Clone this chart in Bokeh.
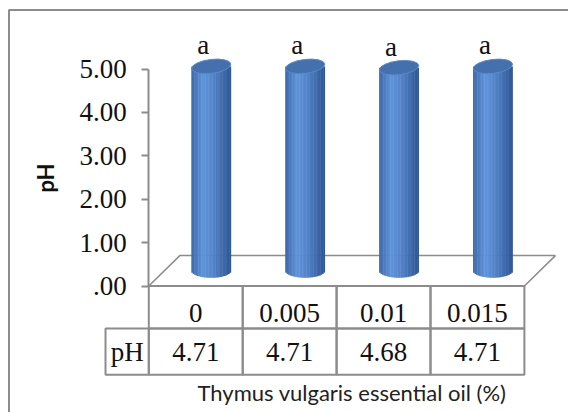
import math
from bokeh.plotting import figure
from bokeh.models import Range1d, LinearAxis, FixedTicker, BoxAnnotation
from bokeh.core.properties import value
from bokeh.embed import file_html
from bokeh.resources import INLINE

# ---- data ----
categories = ["0", "0.005", "0.01", "0.015"]
ph_values = [4.71, 4.71, 4.68, 4.71]
letters = ["a", "a", "a", "a"]
series_name = "pH"
y_ticks = [0, 1, 2, 3, 4, 5]
y_tick_labels = [".00", "1.00", "2.00", "3.00", "4.00", "5.00"]
x_title = "Thymus vulgaris essential oil (%)"
y_title = "pH"

# ---- layout constants (pixels) ----
W, H = 568, 412
PX_X, PX_Y = 93.9, 43.4          # pixels per data unit
X0C, Y0C = 195.25, 285.5          # canvas position of data origin
DX, DY = 0.33, 0.70               # 3-D depth of the floor (data units)
CW, EH = 0.42, 0.32               # cylinder width, ellipse height
ROW1, ROW2 = -0.98, -2.046        # table row bottoms
HDR_W = 0.461                     # width of the series-name cell
GRID = "#8c8c8c"
SERIF = "Liberation Serif"

n = len(categories)
p = figure(width=W, height=H, output_backend="svg", toolbar_location=None,
           x_axis_type=None, y_axis_type=None,
           x_range=Range1d(-X0C / PX_X, (W - X0C) / PX_X),
           y_range=Range1d(-(H - Y0C) / PX_Y, Y0C / PX_Y),
           min_border=0, outline_line_color=None)
p.xgrid.visible = False
p.ygrid.visible = False
p.background_fill_color = "white"
p.border_fill_color = "white"

# outer chart border (only left and top edges fall inside the window)
p.add_layout(BoxAnnotation(left=(8.5 - X0C) / PX_X, right=(W + 20 - X0C) / PX_X,
                           top=(Y0C - 9.5) / PX_Y, bottom=(Y0C - H - 20) / PX_Y,
                           fill_color=None, fill_alpha=0,
                           line_color=GRID, line_width=2, line_alpha=1))

# floor
p.patch([-0.5, n - 0.5, n - 0.5 + DX, -0.5 + DX], [0, 0, DY, DY],
        fill_color="white", line_color=GRID, line_width=1.5)

# cylinders
cx = [i + DX / 2 for i in range(n)]
base = DY / 2
tops = [v + DY / 2 for v in ph_values]

stops = [(0.0, (60, 104, 168)), (0.3, (96, 149, 219)), (0.55, (84, 132, 202)),
         (1.0, (44, 86, 148))]
def shade(t):
    for (t0, c0), (t1, c1) in zip(stops[:-1], stops[1:]):
        if t0 <= t <= t1:
            f = (t - t0) / (t1 - t0)
            return "#%02x%02x%02x" % tuple(int(a + (b - a) * f) for a, b in zip(c0, c1))
    return "#%02x%02x%02x" % stops[-1][1]

NS = 28
sx, sw, sb, st, sc = [], [], [], [], []
for i in range(n):
    for k in range(NS):
        off = -CW / 2 + (k + 0.5) * CW / NS
        r = off / (CW / 2)
        sx.append(cx[i] + off)
        sw.append(CW / NS * 1.3)
        sb.append(base - EH / 2 * math.sqrt(max(0.0, 1 - r * r)))
        st.append(tops[i])
        sc.append(shade((k + 0.5) / NS))
p.vbar(x=sx, width=sw, bottom=sb, top=st, fill_color=sc, line_color=None)
p.ellipse(x=cx, y=tops, width=CW, height=EH, angle=0.12,
          fill_color="#4470ad", line_color="#5a88c8", line_width=1)

# significance letters
p.text(x=cx, y=tops, text=letters, x_offset=-8, y_offset=-21,
       text_align="center", text_baseline="alphabetic",
       text_font=value(SERIF), text_font_size="27px", text_color="#111111")

# y axis on the front plane
yax = LinearAxis(fixed_location=-0.5, ticker=FixedTicker(ticks=y_ticks),
                 bounds=(y_ticks[0], y_ticks[-1]),
                 major_label_overrides=dict(zip(y_ticks, y_tick_labels)),
                 axis_line_color=GRID, axis_line_width=2,
                 major_tick_line_color=GRID, major_tick_line_width=2,
                 major_tick_out=7, major_tick_in=0, minor_tick_line_color=None,
                 major_label_standoff=15,
                 major_label_text_font=SERIF, major_label_text_font_size="27px",
                 major_label_text_color="#111111",
                 axis_label=y_title, axis_label_text_font="Lato",
                 axis_label_text_font_style="bold", axis_label_text_font_size="22px",
                 axis_label_text_color="#111111", axis_label_standoff=17)
p.add_layout(yax, "left")

# data table
p.quad(left=[i - 0.5 for i in range(n)], right=[i + 0.5 for i in range(n)],
       top=[0] * n, bottom=[ROW1] * n, fill_color=None, line_color=GRID, line_width=2)
p.quad(left=[-0.5 - HDR_W] + [i - 0.5 for i in range(n)],
       right=[-0.5] + [i + 0.5 for i in range(n)],
       top=[ROW1] * (n + 1), bottom=[ROW2] * (n + 1),
       fill_color=None, line_color=GRID, line_width=2)
p.text(x=list(range(n)), y=[ROW1 / 2] * n, text=categories, y_offset=6,
       text_align="center", text_baseline="middle",
       text_font=value(SERIF), text_font_size="27px", text_color="#111111")
p.text(x=[-0.5 - HDR_W / 2] + list(range(n)), y=[(ROW1 + ROW2) / 2] * (n + 1),
       text=[series_name] + ["%.2f" % v for v in ph_values],
       text_align="center", text_baseline="middle",
       text_font=value(SERIF), text_font_size="27px", text_color="#111111")

# x title below the table
xax = LinearAxis(fixed_location=ROW2, ticker=FixedTicker(ticks=[]),
                 bounds=(-0.5, n - 0.5 + DX), axis_line_color=None,
                 major_tick_line_color=None, minor_tick_line_color=None,
                 major_label_text_font_size="0px",
                 axis_label=x_title, axis_label_text_font="Lato",
                 axis_label_text_font_style="normal", axis_label_text_font_size="22px",
                 axis_label_text_color="#222222", axis_label_standoff=4)
p.add_layout(xax, "below")

open("out.html", "w").write(file_html(p, INLINE))
